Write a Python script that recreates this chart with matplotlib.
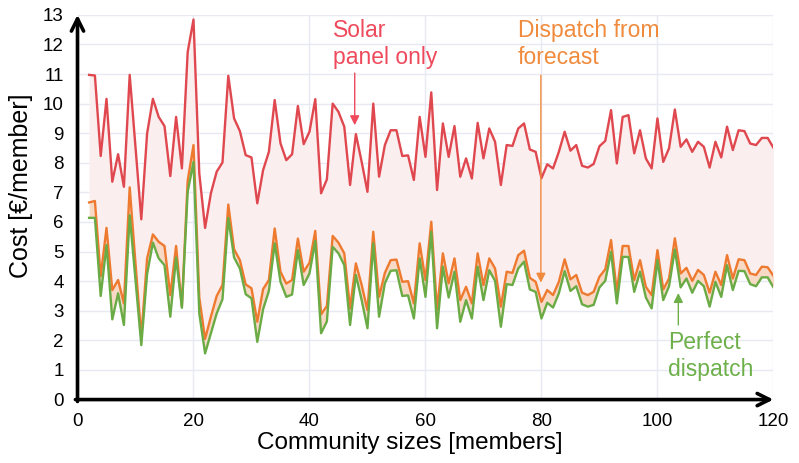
import matplotlib
matplotlib.use('Agg')
import matplotlib.pyplot as plt
import numpy as np

# community sizes 2..120
sizes = list(range(2, 121))

solar_only = [10.97, 10.95, 8.23, 10.16, 7.36, 8.29, 7.19, 10.97, 8.53, 6.09,
              8.99, 10.16, 9.55, 9.24, 7.55, 9.55, 7.81, 11.75, 12.84, 7.64,
              5.80, 6.97, 7.70, 8.01, 10.94, 9.50, 9.07, 8.26, 8.18, 6.63,
              7.75, 8.37, 10.12, 8.66, 8.09, 8.29, 9.92, 8.63, 9.05, 10.15,
              6.97, 7.44, 10.00, 9.72, 9.22, 7.25, 8.97, 8.03, 7.02, 10.00,
              7.53, 8.60, 9.10, 9.10, 8.23, 8.25, 7.42, 9.55, 8.20, 10.38,
              7.08, 9.33, 8.20, 9.24, 7.53, 8.15, 7.47, 9.35, 8.15, 9.16,
              8.71, 7.25, 8.60, 8.57, 9.16, 9.33, 8.45, 8.37, 7.48, 7.95,
              7.81, 8.37, 9.05, 8.41, 8.60, 7.90, 7.84, 7.96, 8.56, 8.74,
              9.78, 7.98, 9.55, 9.61, 8.32, 9.10, 8.15, 7.81, 9.50, 8.03,
              8.49, 9.80, 8.54, 8.79, 8.37, 8.71, 8.54, 7.84, 8.71, 8.18,
              9.22, 8.43, 9.10, 9.07, 8.65, 8.60, 8.84, 8.84, 8.51]

forecast = [6.66, 6.71, 4.17, 5.80, 3.70, 4.04, 3.25, 7.17, 4.60, 2.12,
            4.77, 5.58, 5.33, 5.19, 3.53, 5.19, 3.14, 7.40, 8.60, 3.45,
            2.05, 2.80, 3.50, 3.87, 6.59, 5.08, 4.71, 3.89, 3.76, 2.63,
            3.73, 4.04, 5.78, 4.32, 3.92, 4.04, 5.44, 4.32, 4.62, 5.70,
            2.88, 3.16, 5.53, 5.30, 4.94, 3.08, 4.60, 3.87, 3.02, 5.67,
            3.47, 4.28, 4.71, 4.73, 3.98, 4.00, 3.25, 5.28, 4.04, 6.01,
            3.02, 4.94, 3.93, 4.77, 3.36, 3.81, 3.25, 4.94, 3.87, 4.77,
            4.43, 3.14, 4.32, 4.28, 4.88, 5.03, 4.11, 3.98, 3.30, 3.70,
            3.53, 3.98, 4.74, 4.06, 4.21, 3.61, 3.53, 3.64, 4.15, 4.40,
            5.39, 3.64, 5.19, 5.19, 4.04, 4.71, 3.81, 3.53, 5.05, 3.72,
            4.09, 5.45, 4.26, 4.45, 4.01, 4.38, 4.21, 3.61, 4.32, 3.87,
            4.88, 4.09, 4.74, 4.71, 4.26, 4.21, 4.49, 4.47, 4.18]

perfect = [6.14, 6.14, 3.50, 5.22, 2.71, 3.59, 2.52, 6.23, 4.04, 1.84,
           4.24, 5.30, 4.77, 4.54, 2.80, 4.80, 3.10, 7.02, 8.03, 2.91,
           1.56, 2.24, 2.91, 3.39, 6.14, 4.80, 4.43, 3.56, 3.42, 1.95,
           3.05, 3.67, 5.28, 3.98, 3.47, 3.55, 5.05, 3.87, 4.26, 5.36,
           2.24, 2.64, 5.16, 4.94, 4.54, 2.52, 4.21, 3.36, 2.41, 5.28,
           2.80, 3.93, 4.35, 4.37, 3.50, 3.52, 2.74, 4.77, 3.47, 5.67,
           2.41, 4.49, 3.45, 4.32, 2.63, 3.36, 2.74, 4.49, 3.36, 4.37,
           4.01, 2.46, 3.90, 3.87, 4.43, 4.66, 3.72, 3.64, 2.74, 3.27,
           3.11, 3.59, 4.34, 3.67, 3.83, 3.22, 3.14, 3.20, 3.79, 4.01,
           4.99, 3.25, 4.82, 4.82, 3.64, 4.32, 3.45, 3.08, 4.71, 3.36,
           3.83, 5.07, 3.79, 4.09, 3.61, 4.01, 3.83, 3.14, 3.98, 3.47,
           4.54, 3.70, 4.35, 4.34, 3.90, 3.83, 4.13, 4.13, 3.79]

x_ticks = [0, 20, 40, 60, 80, 100, 120]
y_ticks = list(range(0, 14))

RED = '#e0484f'
ORANGE = '#ee7a30'
GREEN = '#6aab45'

plt.rcParams['font.family'] = ['Liberation Sans', 'DejaVu Sans']

fig = plt.figure(figsize=(7.99, 4.63), dpi=100)
ax = fig.add_axes([0.097, 0.137, 0.871, 0.831])

ax.fill_between(sizes, forecast, solar_only, color='#fbeeee', lw=0)
ax.fill_between(sizes, perfect, forecast, color='#f8d9c6', lw=0)
ax.plot(sizes, solar_only, color=RED, lw=1.7)
ax.plot(sizes, forecast, color=ORANGE, lw=1.7)
ax.plot(sizes, perfect, color=GREEN, lw=1.7)

ax.set_xlim(0, 120)
ax.set_ylim(0, 13)
ax.set_xticks(x_ticks)
ax.set_yticks(y_ticks)
ax.grid(True, color='#e8eaf3', lw=1)
ax.set_axisbelow(True)
for s in ax.spines.values():
    s.set_visible(False)
ax.tick_params(length=0, labelsize=13.5, pad=10)
ax.set_xlabel('Community sizes [members]', fontsize=17.5)
ax.set_ylabel('Cost [€/member]', fontsize=18)
ax.xaxis.set_label_coords(0.478, -0.085)
ax.yaxis.set_label_coords(-0.064, 0.555)

# axes with arrow heads
ax.annotate('', xy=(1.0, 0), xytext=(-0.003, 0), xycoords='axes fraction',
            arrowprops=dict(arrowstyle='->', lw=2.6, color='black', mutation_scale=22,
                            shrinkA=0, shrinkB=0))
ax.annotate('', xy=(0, 1.0), xytext=(0, -0.005), xycoords='axes fraction',
            arrowprops=dict(arrowstyle='->', lw=2.6, color='black', mutation_scale=22,
                            shrinkA=0, shrinkB=0))

# labels (y = baseline of the last line)
ax.text(44.05, 11.33, 'Solar\npanel only', color='#ee4a5c', fontsize=16.5,
        va='baseline', ha='left', linespacing=1.22)
ax.annotate('', xy=(47.8, 9.27), xytext=(47.8, 11.03),
            arrowprops=dict(arrowstyle='-|>', lw=1, color='#ee4a5c', mutation_scale=14,
                            shrinkA=0, shrinkB=0))
ax.text(75.95, 11.33, 'Dispatch from\nforecast', color='#f08a3c', fontsize=16.5,
        va='baseline', ha='left', linespacing=1.22)
ax.annotate('', xy=(79.9, 3.95), xytext=(79.9, 10.96),
            arrowprops=dict(arrowstyle='-|>', lw=1, color='#f08a3c', mutation_scale=14,
                            shrinkA=0, shrinkB=0))
ax.text(101.8, 0.79, 'Perfect\ndispatch', color='#6db04a', fontsize=16.5,
        va='baseline', ha='left', linespacing=1.22)
ax.annotate('', xy=(103.6, 3.6), xytext=(103.6, 2.52),
            arrowprops=dict(arrowstyle='-|>', lw=1, color='#6db04a', mutation_scale=14,
                            shrinkA=0, shrinkB=0))

fig.savefig('out.png', dpi=100)
